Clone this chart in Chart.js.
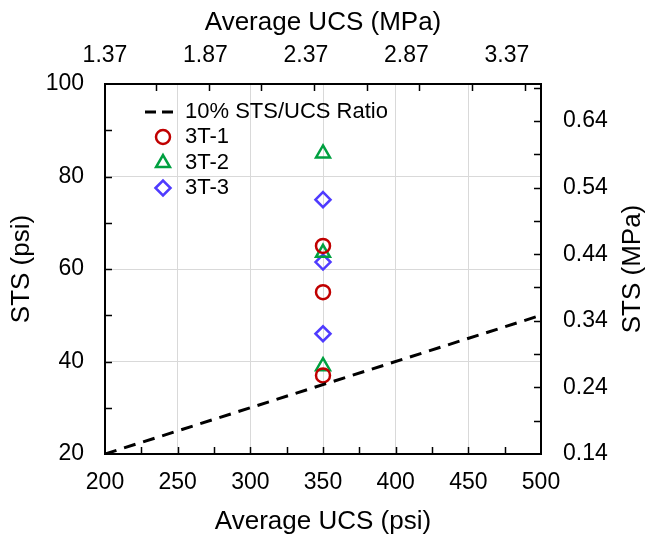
<!DOCTYPE html>
<html>
<head>
<meta charset="utf-8">
<script src="https://cdn.jsdelivr.net/npm/chart.js@4.4.1/dist/chart.umd.min.js"></script>
<style>
  body { margin: 0; background: #fff; }
  #wrap { width: 646px; height: 538px; }
</style>
</head>
<body>
<div id="wrap"><canvas id="stsChart" width="646" height="538"></canvas></div>
<script>
// data (all specimens at average UCS = 350 psi)
var ucs1 = [350, 350, 350];
var sts1 = [65, 55, 37];
var ucs2 = [350, 350, 350];
var sts2 = [85, 63.5, 39];
var ucs3 = [350, 350, 350];
var sts3 = [75, 61.5, 46];

// 10% STS/UCS ratio line
var ratioX = [200, 500];
var ratioY = [20, 50];

var seriesNames = ['10% STS/UCS Ratio', '3T-1', '3T-2', '3T-3'];
var topTicks = [1.37, 1.87, 2.37, 2.87, 3.37];
var rightTicks = [0.14, 0.24, 0.34, 0.44, 0.54, 0.64];
var rightTitle = 'STS (MPa)';

var PSI_PER_MPA = 145.038;
var FONT = "'Liberation Sans', Arial, sans-serif";
var RED = '#c00000', GREEN = '#00a040', BLUE = '#4f3bff';

function pts(xs, ys){
    var out = [];
    for(var i = 0; i < xs.length; i++){
        out.push({x: xs[i], y: ys[i]});
    }
    return out;
}

// box, inward tick marks, legend, right title (reads bottom to top)
var frame = {
    id: 'frame',
    afterDatasetsDraw: function(chart){
        var ctx = chart.ctx;
        var a = chart.chartArea;
        var sx = chart.scales.x, sy = chart.scales.y, sy2 = chart.scales.y2;
        var len = 7, v, p;
        ctx.save();
        ctx.strokeStyle = '#000';
        ctx.lineWidth = 1.5;
        ctx.beginPath();
        // bottom, every 25 psi
        for(v = 225; v < 500; v += 25){
            p = Math.round(sx.getPixelForValue(v)) + 0.5;
            ctx.moveTo(p, a.bottom); ctx.lineTo(p, a.bottom - len);
        }
        // left, every 10 psi
        for(v = 30; v < 100; v += 10){
            p = Math.round(sy.getPixelForValue(v)) + 0.5;
            ctx.moveTo(a.left, p); ctx.lineTo(a.left + len, p);
        }
        // top, every 0.25 MPa (true position in psi)
        for(v = 1.62; v < 3.45; v += 0.25){
            p = Math.round(sx.getPixelForValue(v * PSI_PER_MPA)) + 0.5;
            ctx.moveTo(p, a.top); ctx.lineTo(p, a.top + len);
        }
        // right, every 0.05 MPa
        for(v = 0.19; v < 0.70; v += 0.05){
            p = Math.round(sy2.getPixelForValue(v)) + 0.5;
            ctx.moveTo(a.right, p); ctx.lineTo(a.right - len, p);
        }
        ctx.stroke();
        ctx.lineWidth = 2;
        ctx.strokeRect(a.left, a.top, a.right - a.left, a.bottom - a.top);

        // legend
        var lx = a.left + 40, mx = a.left + 58, tx = a.left + 80;
        var rows = [a.top + 28, a.top + 53, a.top + 79, a.top + 104];
        ctx.setLineDash([11, 6]);
        ctx.lineWidth = 3;
        ctx.beginPath();
        ctx.moveTo(lx, rows[0]); ctx.lineTo(lx + 28, rows[0]);
        ctx.stroke();
        ctx.setLineDash([]);
        var ds = chart.data.datasets;
        for(var i = 1; i < 4; i++){
            ctx.strokeStyle = ds[i].borderColor;
            ctx.fillStyle = 'rgba(0,0,0,0)';
            ctx.lineWidth = ds[i].borderWidth;
            Chart.helpers.drawPoint(ctx, {
                pointStyle: ds[i].pointStyle,
                radius: ds[i].pointRadius,
                borderWidth: ds[i].borderWidth,
                rotation: 0
            }, mx, rows[i]);
        }
        ctx.fillStyle = '#000';
        ctx.font = '22px ' + FONT;
        ctx.textBaseline = 'middle';
        ctx.textAlign = 'left';
        for(i = 0; i < 4; i++){
            ctx.fillText(seriesNames[i], tx, rows[i]);
        }

        ctx.font = '26px ' + FONT;
        ctx.textAlign = 'center';
        ctx.translate(a.right + 92, (a.top + a.bottom) / 2);
        ctx.rotate(-Math.PI / 2);
        ctx.fillText(rightTitle, 0, 0);
        ctx.restore();
    }
};

var tickFont = {family: FONT, size: 23};
var titleFont = {family: FONT, size: 26};
var gridColor = '#d9d9d9';

var ctx = document.getElementById('stsChart').getContext('2d');
var stsChart = new Chart(ctx, {
    type: 'scatter',
    data: {
        datasets: [{
            label: seriesNames[0],
            type: 'line',
            data: pts(ratioX, ratioY),
            borderColor: '#000',
            borderWidth: 3,
            borderDash: [12, 8],
            pointRadius: 0,
            fill: false
        },{
            label: seriesNames[1],
            data: pts(ucs1, sts1),
            pointStyle: 'circle',
            pointRadius: 7,
            borderWidth: 2.5,
            borderColor: RED,
            backgroundColor: 'rgba(0,0,0,0)'
        },{
            label: seriesNames[2],
            data: pts(ucs2, sts2),
            pointStyle: 'triangle',
            pointRadius: 8,
            borderWidth: 2.5,
            borderColor: GREEN,
            backgroundColor: 'rgba(0,0,0,0)'
        },{
            label: seriesNames[3],
            data: pts(ucs3, sts3),
            pointStyle: 'rectRot',
            pointRadius: 7.5,
            borderWidth: 2.5,
            borderColor: BLUE,
            backgroundColor: 'rgba(0,0,0,0)'
        }]
    },
    options: {
        responsive: false,
        animation: false,
        layout: { padding: 0, autoPadding: false },
        plugins: {
            legend: { display: false },
            tooltip: { enabled: false }
        },
        scales: {
            x: {
                type: 'linear',
                position: 'bottom',
                min: 200, max: 500,
                afterFit: function(s){ s.height = 84; },
                border: { display: false },
                grid: { color: gridColor, lineWidth: 1, drawTicks: false },
                ticks: { stepSize: 50, color: '#000', font: tickFont, padding: 15 },
                title: { display: true, text: 'Average UCS (psi)', color: '#000', font: titleFont, padding: {top: 0, bottom: 1} }
            },
            x2: {
                type: 'linear',
                position: 'top',
                min: 1.37, max: 3.54,
                afterFit: function(s){ s.height = 84; },
                afterBuildTicks: function(s){
                    s.ticks = topTicks.map(function(v){ return {value: v}; });
                },
                border: { display: false },
                grid: { display: false, drawTicks: false },
                ticks: {
                    color: '#000', font: tickFont, padding: 15,
                    callback: function(v){ return v.toFixed(2); }
                },
                title: { display: true, text: 'Average UCS (MPa)', color: '#000', font: titleFont, padding: {top: 7, bottom: 0} }
            },
            y: {
                type: 'linear',
                position: 'left',
                min: 20, max: 100,
                afterFit: function(s){ s.width = 105; },
                border: { display: false },
                grid: { color: gridColor, lineWidth: 1, drawTicks: false },
                ticks: { stepSize: 20, color: '#000', font: tickFont, padding: 21 },
                title: { display: true, text: 'STS (psi)', color: '#000', font: titleFont, padding: {top: 6, bottom: 0} }
            },
            y2: {
                type: 'linear',
                position: 'right',
                min: 0.14, max: 0.6955,
                afterFit: function(s){ s.width = 105; },
                afterBuildTicks: function(s){
                    s.ticks = rightTicks.map(function(v){ return {value: v}; });
                },
                border: { display: false },
                grid: { display: false, drawTicks: false },
                ticks: {
                    color: '#000', font: tickFont, padding: 22,
                    callback: function(v){ return v.toFixed(2); }
                },
                title: { display: false }
            }
        }
    },
    plugins: [frame]
});
</script>
</body>
</html>
